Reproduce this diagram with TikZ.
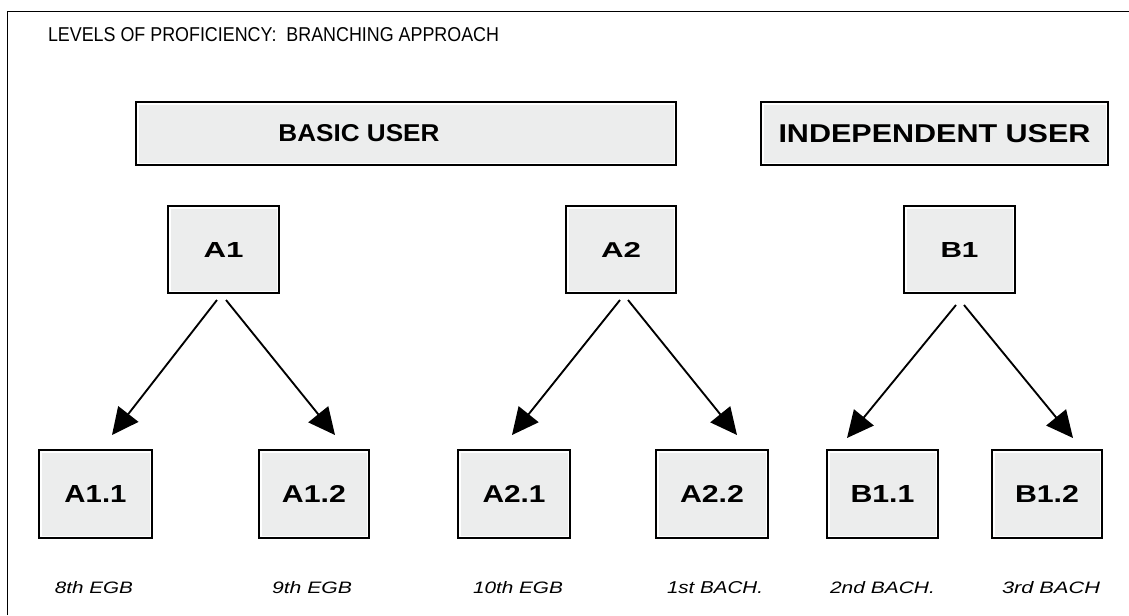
\documentclass[tikz,border=0pt]{standalone}
\usepackage{fontspec}
\setmainfont{Liberation Sans}
\usepackage{graphicx}
\usetikzlibrary{arrows.meta}
\newlength\px \setlength\px{0.75pt}
\definecolor{boxgray}{RGB}{236,237,237}
\newcommand\fitt[3]{\resizebox{#1\px}{#2\px}{#3}}
\begin{document}
\begin{tikzpicture}[x=0.75pt,y=-0.75pt,
  box/.style={draw=black, line width=1.6pt, fill=white, inner sep=0pt, outer sep=0pt,
    minimum width=111\px, minimum height=87\px,
    path picture={\fill[boxgray] ([shift={(2.5\px,2.5\px)}]path picture bounding box.south west)
      rectangle ([shift={(-2.5\px,-2.5\px)}]path picture bounding box.north east);}},
  lab/.style={inner sep=0pt, outer sep=0pt},
  arr/.style={line width=1.4pt, -{Triangle[length=20pt, width=19pt]}},
  frame/.style={line width=1pt}]
\useasboundingbox (0,0) rectangle (1129,615);
\fill[white] (0,0) rectangle (1129,615);
% frame
\draw[frame] (7.5,615) -- (7.5,11.5) -- (1129,11.5);
% title
\node[lab, anchor=west] (title) at (48,35) {\fitt{451}{14}{LEVELS OF PROFICIENCY:\ \ BRANCHING APPROACH}};
% user boxes
\node[box, minimum width=540\px, minimum height=63\px] (basic) at (406,133.5) {};
\node[lab] (basiclab) at (359,133.5) {\fitt{161}{17}{\bfseries BASIC USER}};
\node[box, minimum width=347\px, minimum height=63\px] (indep) at (934.5,133.5) {\fitt{312}{18}{\bfseries INDEPENDENT USER}};
% level boxes
\node[box] (A1) at (223.5,249.5) {\fitt{40}{15}{\bfseries A1}};
\node[box, minimum width=110\px] (A2) at (621,249.5) {\fitt{40}{15}{\bfseries A2}};
\node[box] (B1) at (959.5,249.5) {\fitt{38}{15}{\bfseries B1}};
% sublevel boxes
\node[box, minimum width=113\px, minimum height=88\px] (A11) at (95.5,494) {\fitt{62}{17}{\bfseries A1.1}};
\node[box, minimum width=110\px, minimum height=88\px] (A12) at (314,494) {\fitt{64}{17}{\bfseries A1.2}};
\node[box, minimum width=112\px, minimum height=88\px] (A21) at (514,494) {\fitt{63}{17}{\bfseries A2.1}};
\node[box, minimum width=112\px, minimum height=88\px] (A22) at (712,494) {\fitt{64}{17}{\bfseries A2.2}};
\node[box, minimum width=111\px, minimum height=88\px] (B11) at (882.5,494) {\fitt{64}{17}{\bfseries B1.1}};
\node[box, minimum width=110\px, minimum height=88\px] (B12) at (1047,494) {\fitt{64}{17}{\bfseries B1.2}};
% course labels
\node[lab] (c11) at (94,588) {\fitt{78}{12}{\itshape 8th EGB}};
\node[lab] (c12) at (312,588) {\fitt{80}{12}{\itshape 9th EGB}};
\node[lab] (c21) at (518,588) {\fitt{90}{12}{\itshape 10th EGB}};
\node[lab] (c22) at (715,588) {\fitt{96}{12}{\itshape 1st BACH.}};
\node[lab] (c31) at (882.5,588) {\fitt{105}{12}{\itshape 2nd BACH.}};
\node[lab] (c32) at (1051,588) {\fitt{98}{12}{\itshape 3rd BACH}};
% arrow tips
\coordinate (t11) at (112,435);
\coordinate (t12) at (335,435);
\coordinate (t21) at (512,435);
\coordinate (t22) at (737,435);
\coordinate (t31) at (847,438);
\coordinate (t32) at (1073,438);
% arrows
\draw[arr] ([xshift=-6.5\px,yshift=-7\px]A1.south) -- (t11);
\draw[arr] ([xshift=2.5\px,yshift=-7\px]A1.south) -- (t12);
\draw[arr] ([xshift=-1\px,yshift=-7\px]A2.south) -- (t21);
\draw[arr] ([xshift=7\px,yshift=-7\px]A2.south) -- (t22);
\draw[arr] ([xshift=-3.5\px,yshift=-12\px]B1.south) -- (t31);
\draw[arr] ([xshift=4.5\px,yshift=-12\px]B1.south) -- (t32);
\end{tikzpicture}
\end{document}
